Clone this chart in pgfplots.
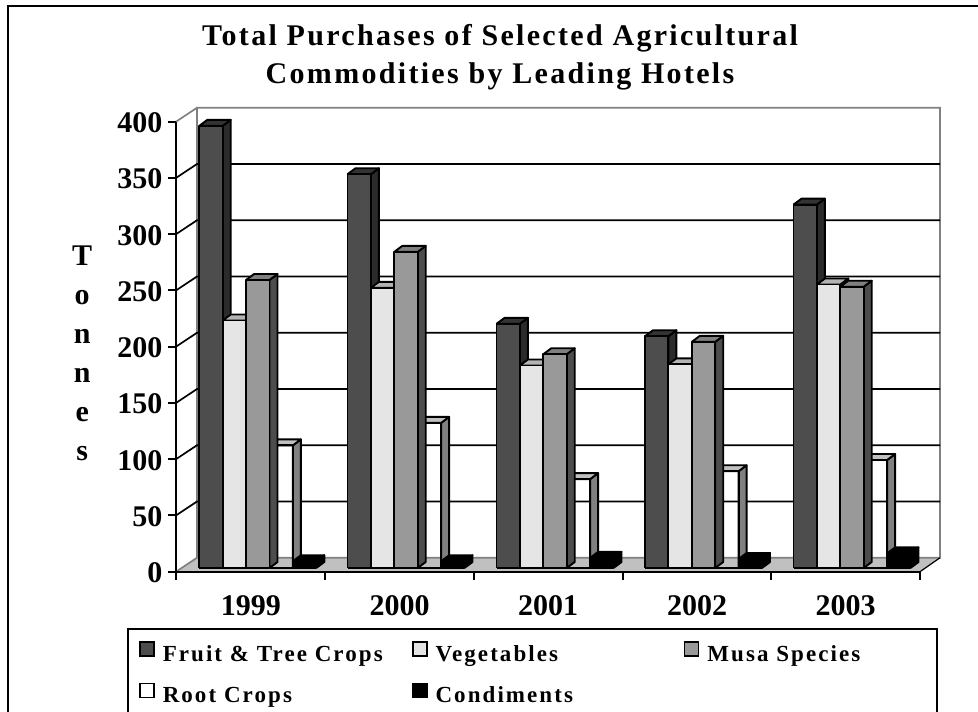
\documentclass[border=0pt]{standalone}
\usepackage{fontspec}
\setmainfont{Liberation Serif}
\newfontfamily\titlefont[LetterSpace=7.7]{Liberation Serif}
\newfontfamily\legendfont[LetterSpace=9]{Liberation Serif}
\usepackage{pgfplots}
\pgfplotsset{compat=1.18}

\definecolor{fruitF}{HTML}{4D4D4D}
\definecolor{fruitT}{HTML}{333333}
\definecolor{fruitS}{HTML}{2B2B2B}
\definecolor{vegF}{HTML}{E5E5E5}
\definecolor{vegT}{HTML}{B3B3B3}
\definecolor{vegS}{HTML}{808080}
\definecolor{musaF}{HTML}{999999}
\definecolor{musaT}{HTML}{808080}
\definecolor{musaS}{HTML}{4D4D4D}
\definecolor{rootT}{HTML}{C0C0C0}
\definecolor{rootS}{HTML}{808080}
\definecolor{floorc}{HTML}{C0C0C0}
\definecolor{wallc}{HTML}{808080}

% x is in picture pixels, y in tonnes
\def\bw{23.4}
\def\dpx{8}
\def\dpy{5.3}
\def\basey{3.3}
\newcommand{\tdbar}[5]{%
  \pgfmathsetmacro\xr{#1+\bw}%
  \pgfmathsetmacro\xbl{#1+\dpx}%
  \pgfmathsetmacro\xbr{#1+\bw+\dpx}%
  \pgfmathsetmacro\yt{#2+\basey}%
  \pgfmathsetmacro\ybt{#2+\basey+\dpy}%
  \pgfmathsetmacro\ybb{\basey+\dpy}%
  \addplot[barline,fill=#5] coordinates {(\xr,\basey)(\xbr,\ybb)(\xbr,\ybt)(\xr,\yt)(\xr,\basey)};
  \addplot[barline,fill=#4] coordinates {(#1,\yt)(\xbl,\ybt)(\xbr,\ybt)(\xr,\yt)(#1,\yt)};
  \addplot[barline,#3] coordinates {(#1,\basey)(#1,\yt)(\xr,\yt)(\xr,\basey)(#1,\basey)};
}
% the root crops bar has no fill on its front, so it goes in before musa
\newcommand{\tdgroup}[6]{%
  \pgfmathsetmacro\xa{#1}\pgfmathsetmacro\xb{#1+\bw}\pgfmathsetmacro\xc{#1+2*\bw}%
  \pgfmathsetmacro\xd{#1+3*\bw}\pgfmathsetmacro\xe{#1+4*\bw}%
  \tdbar{\xa}{#2}{fill=fruitF}{fruitT}{fruitS}
  \tdbar{\xb}{#3}{fill=vegF}{vegT}{vegS}
  \tdbar{\xd}{#5}{fill=none}{rootT}{rootS}
  \tdbar{\xc}{#4}{fill=musaF}{musaT}{musaS}
  \tdbar{\xe}{#6}{fill=black}{black}{black}
}
\newcommand{\gridl}[2]{%
  \pgfmathsetmacro\yg{#1+12.4}%
  \addplot[#2,line width=1.7pt] coordinates {(176,#1)(197,\yg)(940,\yg)};
}

\begin{document}
\begin{tikzpicture}[x=1pt,y=1pt]
\useasboundingbox (0,0) rectangle (978,712);
\clip (0,0) rectangle (978,712);
\draw[line width=2pt] (8,-20) -- (8,706) -- (990,706);
\begin{axis}[
    at={(176pt,140.3pt)},
    anchor=south west,
    scale only axis,
    width=744pt,
    height=450pt,
    xmin=176, xmax=920,
    ymin=0, ymax=400,
    clip=false,
    axis on top,
    axis x line=bottom,
    axis y line=left,
    axis line style={-,line width=2pt},
    tick style={black,line width=2pt},
    tick align=outside,
    major tick length=8pt,
    minor tick length=8pt,
    ytick={0,50,...,400},
    xtick={251,399.5,548,697,845.5},
    xticklabels={1999,2000,2001,2002,2003},
    minor xtick={176,325,474,622.5,771,920},
    x tick style={draw=none},
    minor x tick style={draw=black,line width=2pt},
    tick label style={font=\fontsize{30}{30}\selectfont\bfseries},
    /pgf/number format/assume math mode=true,
    yticklabel style={xshift=-2pt,yshift=-1pt},
    xticklabel style={yshift=-12pt},
    title={Total Purchases of Selected Agricultural\\Commodities by Leading Hotels},
    title style={at={(0.4355,1.13)},anchor=center,align=center,
      font=\fontsize{30}{38.6}\selectfont\titlefont\bfseries},
    ylabel={T\\o\\n\\n\\e\\s},
    ylabel style={at={(-0.126,0.485)},rotate=-90,anchor=center,align=center,
      font=\fontsize{30}{39}\selectfont\bfseries},
    barline/.style={draw=black,line width=1.9pt,line join=round,forget plot},
    legend style={at={(-0.0659,-0.125)},anchor=north west,draw=black,line width=2pt,
      inner xsep=11pt,inner ysep=12pt,
      font=\fontsize{23}{26}\selectfont\legendfont\bfseries,
      row sep=20pt,
      nodes={inner sep=0pt}},
    legend columns=3,
    legend cell align=left,
    legend image code/.code={\draw[#1,line width=1.8pt] (0pt,-2pt) rectangle (14pt,12pt);},
  ]
% floor and walls
\addplot[fill=floorc,draw=none,forget plot] coordinates {(176,0)(920,0)(940,12.4)(197,12.4)(176,0)};
\addplot[wallc,line width=1.7pt,forget plot] coordinates {(176,0)(197,12.4)(197,412.4)(940,412.4)(940,12.4)(197,12.4)};
\addplot[black,line width=1.2pt,forget plot] coordinates {(920,0)(940,12.4)};
\addplot[wallc,line width=1.7pt,forget plot] coordinates {(176,400)(197,412.4)};
\gridl{50}{black,forget plot}
\gridl{100}{black,forget plot}
\gridl{150}{black,forget plot}
\gridl{200}{black,forget plot}
\gridl{250}{black,forget plot}
\gridl{300}{black,forget plot}
\gridl{350}{black,forget plot}
% left edge, values: fruit, vegetables, musa, root, condiments
\tdgroup{199.3}{393}{220}{256}{109}{6}
\tdgroup{347.5}{350}{249}{281}{129}{6}
\tdgroup{496.5}{217}{180}{190}{79}{9}
\tdgroup{645}{206}{181}{201}{86}{8}
\tdgroup{793.5}{323}{252}{250}{96}{13}
\addlegendimage{fill=fruitF}
\addlegendentry{\makebox[257pt][l]{\hspace*{8pt}Fruit \& Tree Crops}}
\addlegendimage{fill=vegF}
\addlegendentry{\makebox[256pt][l]{\hspace*{8pt}Vegetables}}
\addlegendimage{fill=musaF}
\addlegendentry{\makebox[227pt][l]{\hspace*{8pt}Musa Species}}
\addlegendimage{fill=white}
\addlegendentry{\makebox[257pt][l]{\hspace*{8pt}Root Crops\rule[-40pt]{0pt}{1pt}}}
\addlegendimage{fill=black}
\addlegendentry{\makebox[256pt][l]{\hspace*{8pt}Condiments}}
\end{axis}
\end{tikzpicture}
\end{document}
